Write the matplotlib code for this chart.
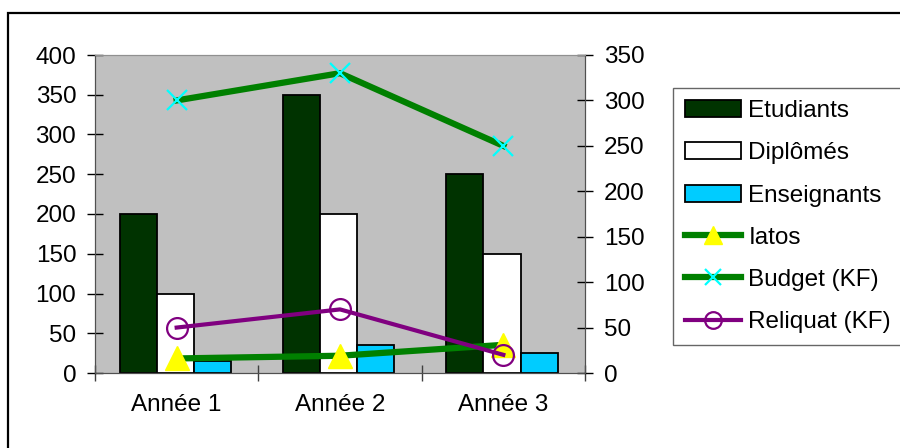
import matplotlib
matplotlib.use("Agg")
import matplotlib.pyplot as plt
from matplotlib.patches import Rectangle
import numpy as np

plt.rcParams['font.family'] = ['Liberation Sans', 'DejaVu Sans']

# donnees du graphique
annees = ["Année 1", "Année 2", "Année 3"]
etudiants = [200, 350, 250]
diplomes = [100, 200, 150]
enseignants = [15, 35, 25]
iatos = [16, 19, 31]
budget = [300, 330, 250]
reliquat = [50, 70, 20]

fs = 17.5

fig = plt.figure(figsize=(9, 4.48), dpi=100)
ax = fig.add_axes([95/900, 1-373/448, 490/900, 318/448])
ax.set_facecolor('#C0C0C0')

x = np.arange(len(annees))
w = 0.227
off = -0.008
b1 = ax.bar(x - w + off, etudiants, w, color='#003300', edgecolor='black', lw=1.3, label='Etudiants')
b2 = ax.bar(x + off, diplomes, w, color='white', edgecolor='black', lw=1.3, label='Diplômés')
b3 = ax.bar(x + w + off, enseignants, w, color='#00CCFF', edgecolor='black', lw=1.3, label='Enseignants')

ax.set_xlim(-0.5, 2.5)
ax.set_ylim(0, 400)
ax.set_yticks(range(0, 401, 50))
ax.set_xticks([-0.5, 0.5, 1.5, 2.5], minor=False)
ax.set_xticklabels([])
ax.set_xticks(x, minor=True)
ax.set_xticklabels(annees, minor=True)
ax.tick_params(axis='x', which='minor', length=0, pad=15, labelsize=fs)
ax.tick_params(axis='x', which='major', direction='inout', length=11, width=1, color='#404040')
ax.tick_params(axis='y', direction='inout', length=11, width=1, pad=8, labelsize=fs)

ax2 = ax.twinx()
ax2.set_ylim(0, 350)
ax2.set_yticks(range(0, 351, 50))
ax2.tick_params(axis='y', direction='inout', length=11, width=1, pad=8, labelsize=fs)

l1, = ax2.plot(x, iatos, color='#008000', lw=4.5, marker='^', ms=17,
               mfc='#FFFF00', mec='#FFFF00', label='Iatos')
l2, = ax2.plot(x, budget, color='#008000', lw=4.5, marker='x', ms=14, mew=1.6,
               mec='#00FFFF', label='Budget (KF)')
l3, = ax2.plot(x, reliquat, color='#800080', lw=3, marker='o', ms=15, mew=1.6,
               mfc='none', mec='#800080', label='Reliquat (KF)')

for a in (ax, ax2):
    for s in a.spines.values():
        s.set_color('#505050')
    a.spines['top'].set_color('#909090')

handles = [b1, b2, b3, l1, l2, l3]
labels = ['Etudiants', 'Diplômés', 'Enseignants', 'Iatos', 'Budget (KF)', 'Reliquat (KF)']
leg = fig.legend(handles, labels, loc='upper left', bbox_to_anchor=(673/900, 1-88/448),
                 fontsize=fs, frameon=True, fancybox=False, edgecolor='#404040',
                 handlelength=2.3, handletextpad=0.3, labelspacing=0.83,
                 borderpad=0.5, borderaxespad=0, markerscale=0.8)
leg.get_frame().set_linewidth(1)

# cadre exterieur
fig.add_artist(Rectangle((8/900, -0.2), 1.0, 1.2-13/448, transform=fig.transFigure,
                         fill=False, lw=1.6, edgecolor='black'))

fig.savefig('out.png', dpi=100)
